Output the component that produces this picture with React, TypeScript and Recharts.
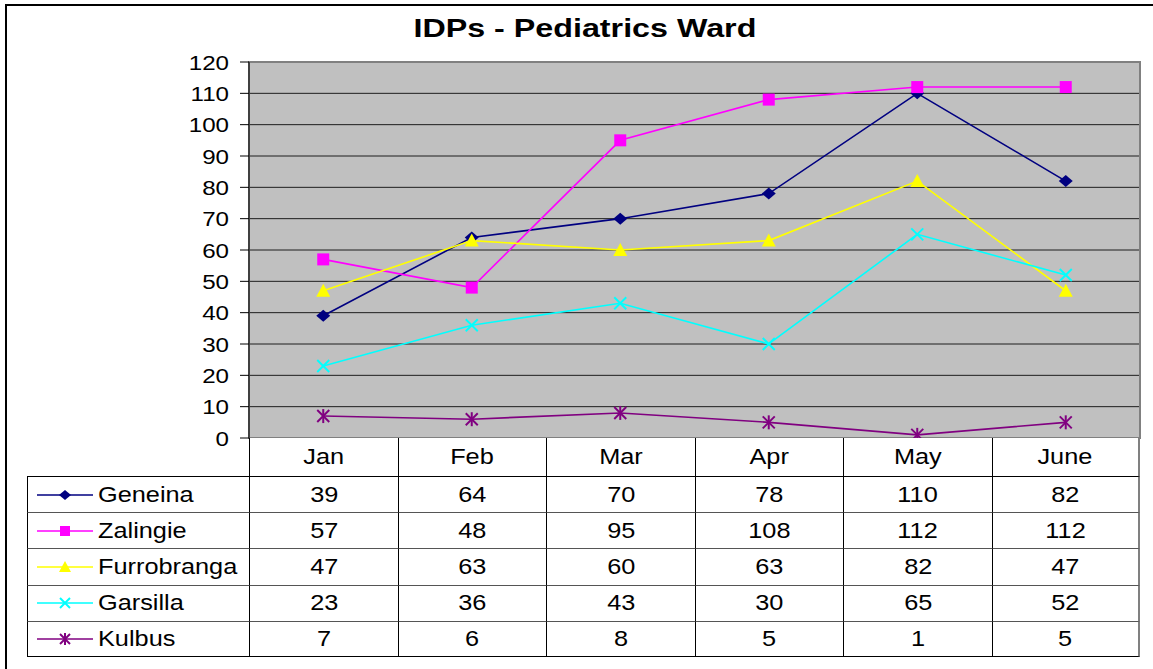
import { LineChart, Line, XAxis, YAxis, CartesianGrid, ReferenceArea } from 'recharts';

const months = ['Jan', 'Feb', 'Mar', 'Apr', 'May', 'June'];
const geneina = [39, 64, 70, 78, 110, 82];
const zalingie = [57, 48, 95, 108, 112, 112];
const furrobranga = [47, 63, 60, 63, 82, 47];
const garsilla = [23, 36, 43, 30, 65, 52];
const kulbus = [7, 6, 8, 5, 1, 5];
const yTicks = [0, 10, 20, 30, 40, 50, 60, 70, 80, 90, 100, 110, 120];

type Shape = 'diamond' | 'square' | 'triangle' | 'x' | 'star';

const series: { key: string; name: string; color: string; shape: Shape; values: number[] }[] = [
	{ key: 'geneina', name: 'Geneina', color: '#000080', shape: 'diamond', values: geneina },
	{ key: 'zalingie', name: 'Zalingie', color: '#FF00FF', shape: 'square', values: zalingie },
	{ key: 'furrobranga', name: 'Furrobranga', color: '#FFFF00', shape: 'triangle', values: furrobranga },
	{ key: 'garsilla', name: 'Garsilla', color: '#00FFFF', shape: 'x', values: garsilla },
	{ key: 'kulbus', name: 'Kulbus', color: '#800080', shape: 'star', values: kulbus },
];

const data = months.map((m, i) => {
	const row: Record<string, string | number> = { month: m };
	series.forEach((s) => (row[s.key] = s.values[i]));
	return row;
});

// layout (matches the reference picture)
const PLOT_LEFT = 249;
const PLOT_RIGHT = 1140;
const PLOT_TOP = 62;
const PLOT_BOTTOM = 438;
const TABLE_LEFT = 27;
const HEAD_H = 38;
const ROW_H = 36.2;
const COL_W = (PLOT_RIGHT - PLOT_LEFT) / months.length;
const FONT = '"Liberation Sans", Arial, sans-serif';
const STRETCH = 1.15; // the original text is a bit wide

function Marker({ shape, cx, cy, color, r = 6 }: { shape: Shape; cx: number; cy: number; color: string; r?: number }) {
	if (shape === 'diamond') {
		return <polygon points={`${cx - r - 1},${cy} ${cx},${cy - r} ${cx + r + 1},${cy} ${cx},${cy + r}`} fill={color} />;
	}
	if (shape === 'square') {
		return <rect x={cx - r} y={cy - r} width={r * 2} height={r * 2} fill={color} />;
	}
	if (shape === 'triangle') {
		return <polygon points={`${cx},${cy - r - 1} ${cx + r + 1},${cy + r} ${cx - r - 1},${cy + r}`} fill={color} />;
	}
	if (shape === 'x') {
		return (
			<g stroke={color} strokeWidth={2}>
				<line x1={cx - r} y1={cy - r} x2={cx + r} y2={cy + r} />
				<line x1={cx - r} y1={cy + r} x2={cx + r} y2={cy - r} />
			</g>
		);
	}
	return (
		<g stroke={color} strokeWidth={2}>
			<line x1={cx - r} y1={cy - r} x2={cx + r} y2={cy + r} />
			<line x1={cx - r} y1={cy + r} x2={cx + r} y2={cy - r} />
			<line x1={cx} y1={cy - r - 1} x2={cx} y2={cy + r + 1} />
		</g>
	);
}

const makeDot = (shape: Shape, color: string) => (props: any) => {
	const { cx, cy, index } = props;
	if (cx == null || cy == null) return <g key={index} />;
	return <Marker key={index} shape={shape} cx={cx} cy={cy} color={color} />;
};

function YTick(props: any) {
	const { x, y, payload } = props;
	return (
		<text transform={`translate(${x},${y}) scale(${STRETCH},1)`} textAnchor="end" dy="0.36em" fontSize={21} fontFamily={FONT} fill="#000">
			{payload.value}
		</text>
	);
}

const Wide = ({ children, origin = 'center' }: { children: React.ReactNode; origin?: string }) => (
	<span style={{ display: 'inline-block', transform: `scaleX(${STRETCH})`, transformOrigin: origin }}>{children}</span>
);

export default function App() {
	return (
		<div style={styles.page}>
			<div style={styles.frame} />
			<div style={styles.title}>
				<span style={{ display: 'inline-block', transform: 'scaleX(1.29)' }}>IDPs - Pediatrics Ward</span>
			</div>
			<div style={{ position: 'absolute', left: 0, top: 0 }}>
				<LineChart width={1153} height={669} data={data} margin={{ top: PLOT_TOP, right: 1153 - PLOT_RIGHT, bottom: 669 - PLOT_BOTTOM, left: PLOT_LEFT - 60 }}>
					<CartesianGrid vertical={false} fill="#C0C0C0" stroke="#000" strokeOpacity={0.85} />
					<ReferenceArea y1={0} y2={120} fill="none" stroke="#808080" strokeWidth={2} />
					<XAxis dataKey="month" scale="band" hide />
					<YAxis
						width={60}
						domain={[0, 120]}
						ticks={yTicks}
						interval={0}
						tickSize={9}
						tickMargin={11}
						axisLine={{ stroke: '#000' }}
						tickLine={{ stroke: '#000' }}
						tick={<YTick />}
					/>
					{series.map((s) => (
						<Line
							key={s.key}
							dataKey={s.key}
							name={s.name}
							stroke={s.color}
							strokeWidth={1.6}
							dot={makeDot(s.shape, s.color)}
							activeDot={false}
							isAnimationActive={false}
						/>
					))}
				</LineChart>
			</div>
			{/* data table */}
			{months.map((m, i) => (
				<div
					key={m}
					style={{
						...styles.cell,
						left: PLOT_LEFT + i * COL_W,
						top: PLOT_BOTTOM,
						width: COL_W,
						height: HEAD_H,
						borderLeft: '1px solid #000',
						borderRight: i === months.length - 1 ? '2px solid #808080' : 'none',
					}}
				>
					<Wide>{m}</Wide>
				</div>
			))}
			{series.map((s, r) => {
				const top = PLOT_BOTTOM + HEAD_H + r * ROW_H;
				const rowBorders: React.CSSProperties = {
					borderLeft: '1px solid #000',
					borderTop: r === 0 ? '1px solid #000' : '1px solid #555',
					borderBottom: r === series.length - 1 ? '1px solid #000' : 'none',
				};
				return (
					<div key={s.key}>
						<div
							style={{
								...styles.cell,
								...rowBorders,
								left: TABLE_LEFT,
								top,
								width: PLOT_LEFT - TABLE_LEFT,
								height: ROW_H,
								justifyContent: 'flex-start',
							}}
						>
							<svg width={70} height={20} style={{ marginLeft: 8 }}>
								<line x1={1} y1={10} x2={57} y2={10} stroke={s.color} strokeWidth={1.6} />
								<Marker shape={s.shape} cx={29} cy={10} color={s.color} r={5} />
							</svg>
							<span style={{ marginLeft: -8 }}>
								<Wide origin="left">{s.name}</Wide>
							</span>
						</div>
						{s.values.map((v, i) => (
							<div
								key={i}
								style={{
									...styles.cell,
									...rowBorders,
									left: PLOT_LEFT + i * COL_W,
									top,
									width: COL_W,
									height: ROW_H,
									borderRight: i === months.length - 1 ? '2px solid #808080' : 'none',
								}}
							>
								<Wide>{v}</Wide>
							</div>
						))}
					</div>
				);
			})}
		</div>
	);
}

const styles: Record<string, React.CSSProperties> = {
	page: {
		position: 'fixed',
		left: 0,
		top: 0,
		width: 1153,
		height: 669,
		background: '#fff',
		overflow: 'hidden',
		fontFamily: FONT,
	},
	frame: {
		position: 'absolute',
		left: 5,
		top: 4,
		width: 1200,
		height: 700,
		borderLeft: '2px solid #000',
		borderTop: '2px solid #000',
	},
	title: {
		position: 'absolute',
		left: 0,
		width: 1170,
		top: 14,
		textAlign: 'center',
		fontSize: 25,
		fontWeight: 700,
		color: '#000',
	},
	cell: {
		position: 'absolute',
		boxSizing: 'border-box',
		display: 'flex',
		alignItems: 'center',
		justifyContent: 'center',
		fontSize: 22,
		color: '#000',
		background: '#fff',
	},
};
